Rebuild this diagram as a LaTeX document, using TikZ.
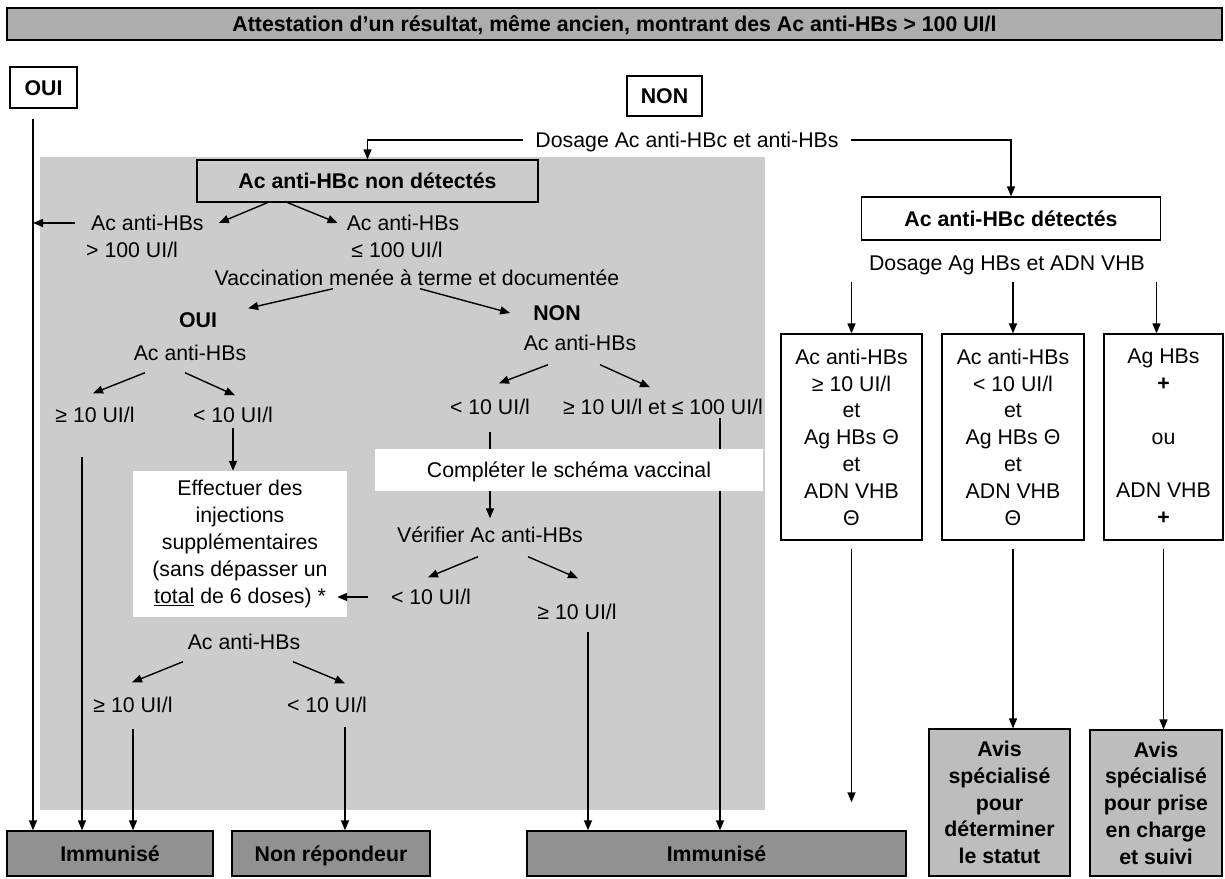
\documentclass[tikz,border=0pt]{standalone}
\usepackage{fontspec}
\setmainfont{Liberation Sans}
\usetikzlibrary{arrows.meta}
\definecolor{shadegray}{gray}{0.80}
\definecolor{titlegray}{gray}{0.68}
\definecolor{endgray}{gray}{0.57}
\definecolor{avisgray}{gray}{0.74}

\begin{document}
\begin{tikzpicture}[x=1pt,y=1pt,yscale=-1,xscale=1,
  mtxt/.style={font=\fontsize{21.3}{26.8}\selectfont, inner sep=0pt, align=center},
  txt/.style={mtxt, text height=15pt, text depth=0pt},
  btxt/.style={txt, font=\fontsize{21.3}{26.8}\selectfont\bfseries},
  titlebox/.style={btxt, draw=black, line width=1.5pt, fill=titlegray},
  labelbox/.style={btxt, draw=black, line width=1.2pt, fill=white},
  hbcbox/.style={btxt, draw=black, line width=1.2pt},
  resbox/.style={mtxt, draw=black, line width=1.2pt, fill=white},
  endbox/.style={btxt, draw=black, line width=1.4pt, fill=endgray},
  avisbox/.style={mtxt, font=\fontsize{21.3}{26.8}\selectfont\bfseries, draw=black, line width=1.2pt, fill=avisgray},
  whitezone/.style={mtxt, fill=white},
  arr/.style={line width=1.4pt, -{Triangle[length=10pt,width=8pt]}},
  ln/.style={line width=1.4pt}]
\useasboundingbox (0,0) rectangle (1225,878);

%Shape: shaded area
\fill[shadegray] (40,157) rectangle (765,810);

%Shape: Rectangle
\node[titlebox, minimum width=1215pt, minimum height=32pt] (title) at (614.5,24) {Attestation d'un résultat, même ancien, montrant des Ac anti-HBs > 100 UI/l};
%Shape: Rectangle
\node[labelbox, minimum width=67pt, minimum height=41pt] (oui) at (43.5,87.5) {OUI};
%Shape: Rectangle
\node[labelbox, minimum width=75pt, minimum height=40pt] (non) at (664.5,96) {NON};
%Shape: Rectangle
\node[hbcbox, minimum width=341pt, minimum height=42pt] (nd) at (367.5,181) {Ac anti-HBc non détectés};
%Shape: Rectangle
\node[hbcbox, fill=white, minimum width=299pt, minimum height=43pt] (det) at (1011,218.5) {Ac anti-HBc détectés};
%Shape: Rectangle
\node[whitezone, text height=15pt, text depth=0pt, minimum width=388pt, minimum height=42pt] (compl) at (569,470) {Compléter le schéma vaccinal};
%Shape: Rectangle
\node[whitezone, minimum width=214pt, minimum height=146pt] (effect) at (240,544) {Effectuer des\\injections\\supplémentaires\\(sans dépasser un\\\underline{total} de 6 doses) *};
%Shape: Rectangle
\node[resbox, minimum width=141pt, minimum height=206pt] (rA) at (851.5,437) {Ac anti-HBs\\≥ 10 UI/l\\et\\Ag HBs Θ\\et\\ADN VHB\\Θ};
%Shape: Rectangle
\node[resbox, minimum width=142pt, minimum height=206pt] (rB) at (1013,437) {Ac anti-HBs\\< 10 UI/l\\et\\Ag HBs Θ\\et\\ADN VHB\\Θ};
%Shape: Rectangle
\node[resbox, minimum width=119pt, minimum height=206pt] (rC) at (1163.5,437) {Ag HBs\\\textbf{+}\\~\\ou\\~\\ADN VHB\\\textbf{+}};
%Shape: Rectangle
\node[endbox, minimum width=206pt, minimum height=45pt] (immuA) at (110,853.5) {Immunisé};
%Shape: Rectangle
\node[endbox, minimum width=198pt, minimum height=45pt] (nonrep) at (331,853.5) {Non répondeur};
%Shape: Rectangle
\node[endbox, minimum width=379pt, minimum height=45pt] (immuB) at (716.5,853.5) {Immunisé};
%Shape: Rectangle
\node[avisbox, minimum width=141pt, minimum height=147pt] (avisA) at (999.5,802.5) {Avis\\spécialisé\\pour\\déterminer\\le statut};
%Shape: Rectangle
\node[avisbox, minimum width=132pt, minimum height=146pt] (avisB) at (1156,803) {Avis\\spécialisé\\pour prise\\en charge\\et suivi};

% Text Node
\node[txt] (dosage) at (687,140) {Dosage Ac anti-HBc et anti-HBs};
% Text Node
\node[txt] (dosageB) at (1007,263) {Dosage Ag HBs et ADN VHB};
% Text Node
\node[txt, anchor=west] (hbsA) at (91,223) {Ac anti-HBs};
% Text Node
\node[txt, anchor=west] (gtA) at (86,250) {> 100 UI/l};
% Text Node
\node[txt] (hbsB) at (403,223) {Ac anti-HBs};
% Text Node
\node[txt] (leB) at (397,250) {≤ 100 UI/l};
% Text Node
\node[txt] (vacc) at (417,278) {Vaccination menée à terme et documentée};
% Text Node
\node[btxt] (ouiB) at (198,320) {OUI};
% Text Node
\node[btxt] (nonB) at (557,313) {NON};
% Text Node
\node[txt] (hbsC) at (190,353) {Ac anti-HBs};
% Text Node
\node[txt] (geC) at (95,415) {≥ 10 UI/l};
% Text Node
\node[txt] (ltC) at (233,415) {< 10 UI/l};
% Text Node
\node[txt] (hbsD) at (580,343) {Ac anti-HBs};
% Text Node
\node[txt] (ltD) at (490,407) {< 10 UI/l};
% Text Node
\node[txt] (geD) at (663,407) {≥ 10 UI/l et ≤ 100 UI/l};
% Text Node
\node[txt] (verif) at (490,535) {Vérifier Ac anti-HBs};
% Text Node
\node[txt] (ltE) at (431,597) {< 10 UI/l};
% Text Node
\node[txt] (geE) at (577,612) {≥ 10 UI/l};
% Text Node
\node[txt] (hbsE) at (244,642) {Ac anti-HBs};
% Text Node
\node[txt] (geF) at (133,705) {≥ 10 UI/l};
% Text Node
\node[txt] (ltF) at (327,705) {< 10 UI/l};

\coordinate (ouitop) at (33,119);
\coordinate (geCdown) at (82,457);
\coordinate (geDdown) at (720,418);
\coordinate (geEdown) at (588,632);
\coordinate (ltFdown) at (345,727);

%Straight Lines
\draw[arr] ([xshift=-12pt]dosage.west) -| (nd.north);
\draw[arr] ([xshift=12pt]dosage.east) -| (det.north);
\draw[arr] (ouitop) -- (ouitop |- immuA.north);
%Straight Lines
\draw[arr] ([xshift=-100pt]nd.south) -- ([xshift=15pt]hbsA.east);
\draw[arr] ([xshift=-80pt]nd.south) -- ([xshift=-9pt]hbsB.west);
\draw[arr] ([xshift=-16pt]hbsA.west) -- (hbsA.west -| ouitop);
%Straight Lines
\draw[arr] ([xshift=-84pt,yshift=3pt]vacc.south) -- ([xshift=31pt,yshift=-4pt]ouiB.north east);
\draw[arr] ([xshift=3pt,yshift=3pt]vacc.south) -- ([xshift=-23pt]nonB.west);
%Straight Lines
\draw[arr] ([xshift=-45pt,yshift=12pt]hbsC.south) -- ([xshift=-2pt,yshift=-14pt]geC.north);
\draw[arr] ([xshift=-5pt,yshift=12pt]hbsC.south) -- ([xshift=2pt,yshift=-12pt]ltC.north);
\draw[arr] ([yshift=5pt]ltC.south) -- (ltC.south |- effect.north);
\draw[arr] (geCdown) -- (geCdown |- immuA.north);
%Straight Lines
\draw[arr] ([xshift=-32pt,yshift=14pt]hbsD.south) -- ([xshift=9pt,yshift=-16pt]ltD.north);
\draw[arr] ([xshift=20pt,yshift=14pt]hbsD.south) -- ([xshift=-13pt,yshift=-12pt]geD.north);
\draw[ln] ([yshift=17pt]ltD.south) -- (ltD.south |- compl.north);
\draw[ln] (geDdown) -- (geDdown |- compl.north);
\draw[arr] (geDdown |- compl.south) -- (geDdown |- immuB.north);
%Straight Lines
\draw[arr] (verif.north |- compl.south) -- ([yshift=-9pt]verif.north);
\draw[arr] ([xshift=-12pt,yshift=14pt]verif.south) -- ([xshift=-3pt,yshift=-12pt]ltE.north);
\draw[arr] ([xshift=38pt,yshift=14pt]verif.south) -- ([xshift=1pt,yshift=-26pt]geE.north);
\draw[arr, shorten >=-10pt] ([xshift=-23pt]ltE.west) -- (ltE.west -| effect.east);
\draw[arr] (geEdown) -- (geEdown |- immuB.north);
%Straight Lines
\draw[arr] ([xshift=-61pt,yshift=12pt]hbsE.south) -- ([xshift=-1pt,yshift=-15pt]geF.north);
\draw[arr] ([xshift=49pt,yshift=12pt]hbsE.south) -- ([xshift=18pt,yshift=-14pt]ltF.north);
\draw[arr] ([yshift=16pt]geF.south) -- (geF.south |- immuA.north);
\draw[arr] (ltFdown) -- (ltFdown |- nonrep.north);
%Straight Lines
\draw[arr] ([yshift=-51pt]rA.north) -- (rA.north);
\draw[arr] ([yshift=-51pt]rB.north) -- (rB.north);
\draw[arr] ([xshift=-7pt,yshift=-51pt]rC.north) -- ([xshift=-7pt]rC.north);
\draw[arr, shorten >=28pt] ([yshift=8pt]rA.south) -- (rA.south |- immuB.north);
\draw[arr] ([yshift=8pt]rB.south) -- (rB.south |- avisA.north);
\draw[arr] ([yshift=8pt]rC.south) -- (rC.south |- avisB.north);

\end{tikzpicture}
\end{document}
